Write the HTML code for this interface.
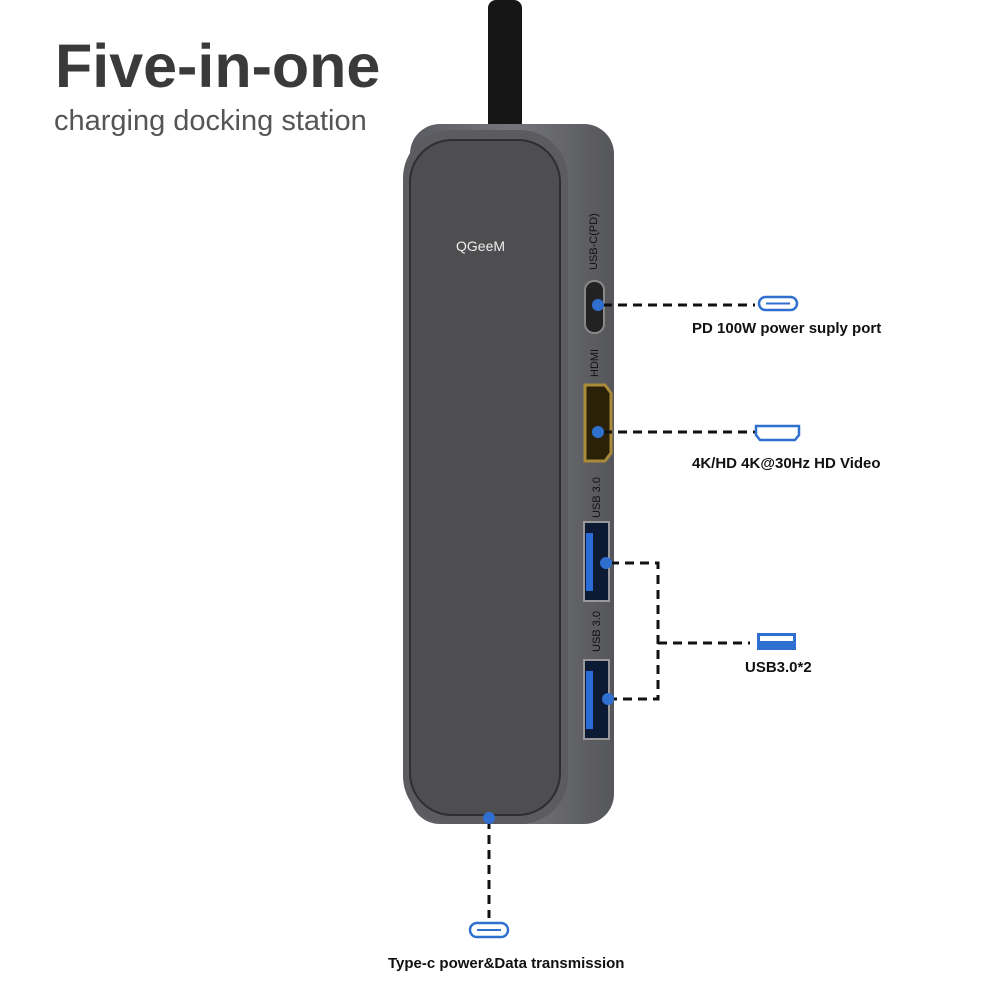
<!DOCTYPE html>
<html><head><style>
body{margin:0;background:#fff;width:1000px;height:1000px;overflow:hidden;position:relative;font-family:"Liberation Sans",sans-serif}
.t{position:absolute;white-space:nowrap}
</style></head><body>
<div class="t" style="left:55px;top:31px;font-size:61px;font-weight:bold;color:#3a3a3a">Five-in-one</div>
<div class="t" style="left:54px;top:105px;font-size:29px;color:#555">charging docking station</div>
<svg width="1000" height="1000" style="position:absolute;left:0;top:0">
<defs>
<linearGradient id="side" x1="0" x2="1"><stop offset="0" stop-color="#5a5b60"/><stop offset="0.5" stop-color="#75767b"/><stop offset="1" stop-color="#55565a"/></linearGradient>
</defs>
<rect x="488" y="0" width="34" height="135" rx="8" fill="#161616"/>
<rect x="410" y="124" width="204" height="700" rx="30" fill="url(#side)"/>
<rect x="403" y="130" width="165" height="694" rx="48" fill="#5c5c60"/>
<rect x="410" y="140" width="150" height="675" rx="42" fill="#4e4e50" stroke="#2e2e30" stroke-width="2"/>
<text x="456" y="251" font-size="14" fill="#eee" font-family="Liberation Sans">QGeeM</text>
<text transform="translate(597,270) rotate(-90)" font-size="11" fill="#111">USB-C(PD)</text>
<text transform="translate(598,377) rotate(-90)" font-size="11" fill="#111">HDMI</text>
<text transform="translate(600,518) rotate(-90)" font-size="11" fill="#111">USB 3.0</text>
<text transform="translate(600,652) rotate(-90)" font-size="11" fill="#111">USB 3.0</text>
<rect x="585" y="281" width="19" height="52" rx="9" fill="#222" stroke="#888" stroke-width="2"/>
<path d="M585 385 h20 l6 8 v60 l-6 8 h-20z" fill="#2a2208" stroke="#a88a3a" stroke-width="3"/>
<rect x="584" y="522" width="25" height="79" fill="#0d1a33" stroke="#999" stroke-width="2"/>
<rect x="586" y="533" width="7" height="58" fill="#2a6bd6"/>
<rect x="584" y="660" width="25" height="79" fill="#0d1a33" stroke="#999" stroke-width="2"/>
<rect x="586" y="671" width="7" height="58" fill="#2a6bd6"/>
<g stroke="#111" stroke-width="3" stroke-dasharray="9,6" fill="none">
<path d="M603 305 H755"/>
<path d="M603 432 H755"/>
<path d="M610 563 H658 V699 H610"/>
<path d="M658 643 H750"/>
<path d="M489 820 V918"/>
</g>
<g fill="#2f6fd0">
<circle cx="598" cy="305" r="6"/><circle cx="598" cy="432" r="6"/>
<circle cx="606" cy="563" r="6"/><circle cx="608" cy="699" r="6"/>
<circle cx="489" cy="818" r="6"/>
</g>
<rect x="759" y="297" width="38" height="13" rx="6.5" fill="none" stroke="#2f6fd0" stroke-width="2.5"/>
<line x1="766" y1="303.5" x2="790" y2="303.5" stroke="#2f6fd0" stroke-width="2"/>
<path d="M756 426 h43 v9 l-4 5 h-35 l-4 -5z" fill="none" stroke="#2f6fd0" stroke-width="2.5"/>
<rect x="757" y="633" width="39" height="17" fill="#2f6fd0"/>
<rect x="760" y="636" width="33" height="5" fill="#fff"/>
<rect x="470" y="923" width="38" height="14" rx="7" fill="none" stroke="#2f6fd0" stroke-width="2.5"/>
<line x1="477" y1="930" x2="501" y2="930" stroke="#2f6fd0" stroke-width="2"/>
</svg>
<div class="t" style="left:692px;top:320px;font-size:15px;font-weight:bold;color:#111">PD 100W power suply port</div>
<div class="t" style="left:692px;top:455px;font-size:15px;font-weight:bold;color:#111">4K/HD 4K@30Hz HD Video</div>
<div class="t" style="left:745px;top:659px;font-size:15px;font-weight:bold;color:#111">USB3.0*2</div>
<div class="t" style="left:388px;top:955px;font-size:15px;font-weight:bold;color:#111">Type-c power&amp;Data transmission</div>
</body></html>
